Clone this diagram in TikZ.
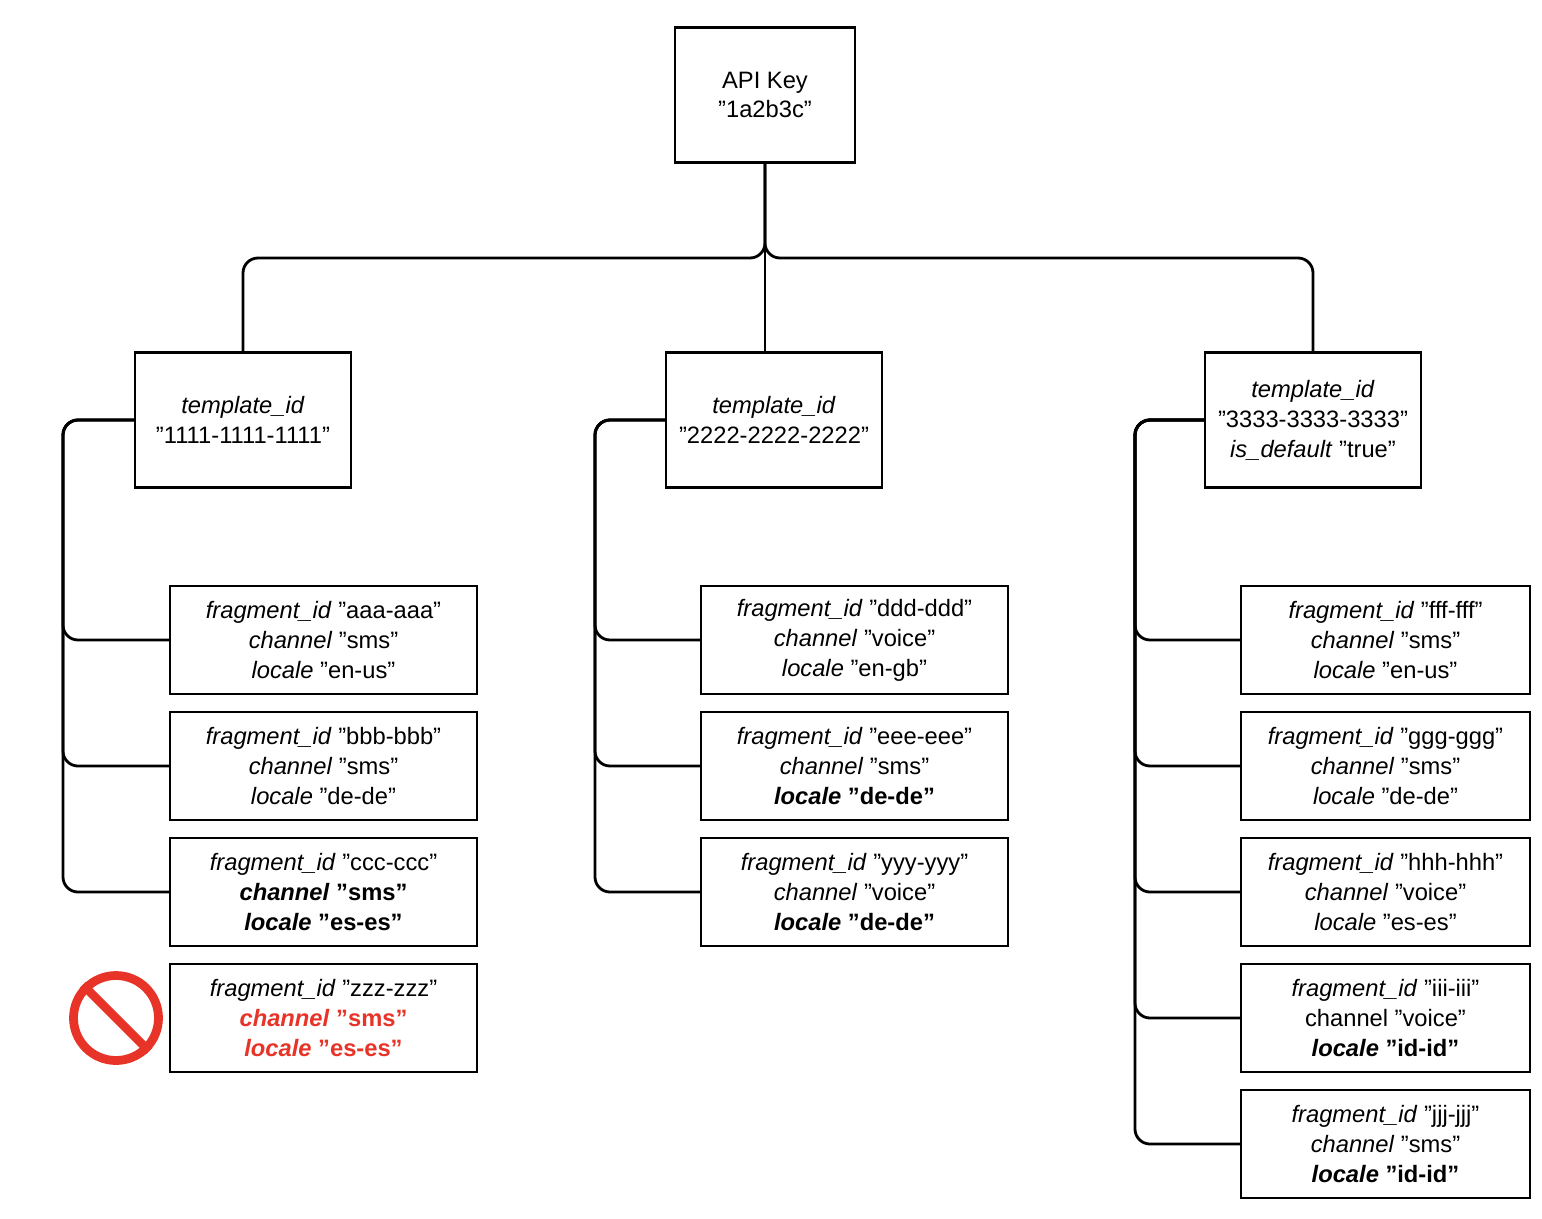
\documentclass[tikz,border=0pt]{standalone}
\usepackage{fontspec}
\setmainfont{Liberation Sans}
\usetikzlibrary{positioning}
\definecolor{my_red}{RGB}{232, 52, 40}
\tikzset {
  box/.style = {draw, line width=1.4pt, rectangle, fill=white, align=center, inner sep=0pt, font=\fontsize{13.5}{17}\selectfont},
  apibox/.style = {box, minimum width=3.6cm, minimum height=2.7cm},
  tmpl/.style = {box, minimum width=4.32cm, minimum height=2.7cm},
  frag/.style = {box, minimum width=6.14cm, minimum height=2.16cm},
  conn/.style = {line width=1.6pt, rounded corners=0.3cm},
}
\begin{document}
\begin{tikzpicture}[x=0.02cm, y=-0.02cm]
    \useasboundingbox (0,0) rectangle (1542,1218);

    \node[apibox] (api) at (765,95) {API Key\\"1a2b3c"};
    \node[tmpl] (t1) at (243,420) {\textit{template\_id}\\"1111-1111-1111"};
    \node[tmpl] (t2) at (774,420) {\textit{template\_id}\\"2222-2222-2222"};
    \node[tmpl] (t3) at (1313,420) {\textit{template\_id}\\"3333-3333-3333"\\\textit{is\_default} "true"};

    % first template
    \node[frag] (fa) at (323.5,640) {\textit{fragment\_id} "aaa-aaa"\\\textit{channel} "sms"\\\textit{locale} "en-us"};
    \node[frag] (fb) at (323.5,766) {\textit{fragment\_id} "bbb-bbb"\\\textit{channel} "sms"\\\textit{locale} "de-de"};
    \node[frag] (fc) at (323.5,892) {\textit{fragment\_id} "ccc-ccc"\\\textbf{\textit{channel} "sms"}\\\textbf{\textit{locale} "es-es"}};
    \node[frag] (fz) at (323.5,1018) {\textit{fragment\_id} "zzz-zzz"\\\textcolor{my_red}{\textbf{\textit{channel} "sms"}}\\\textcolor{my_red}{\textbf{\textit{locale} "es-es"}}};
    \node[circle, draw=my_red, line width=5pt, minimum size=1.7cm] (nosign) at (116,1018) {};
    \draw[my_red, line width=5pt] (nosign.135) -- (nosign.-45);

    % second template
    \node[frag] (fd) at (854.5,640) {\textit{fragment\_id} "ddd-ddd"\\\textit{channel} "voice"\\\textit{locale} "en-gb"};
    \node[frag] (fe) at (854.5,766) {\textit{fragment\_id} "eee-eee"\\\textit{channel} "sms"\\\textbf{\textit{locale} "de-de"}};
    \node[frag] (fy) at (854.5,892) {\textit{fragment\_id} "yyy-yyy"\\\textit{channel} "voice"\\\textbf{\textit{locale} "de-de"}};

    % third template
    \node[frag, minimum width=5.78cm] (ff) at (1385.5,640) {\textit{fragment\_id} "fff-fff"\\\textit{channel} "sms"\\\textit{locale} "en-us"};
    \node[frag, minimum width=5.78cm] (fg) at (1385.5,766) {\textit{fragment\_id} "ggg-ggg"\\\textit{channel} "sms"\\\textit{locale} "de-de"};
    \node[frag, minimum width=5.78cm] (fh) at (1385.5,892) {\textit{fragment\_id} "hhh-hhh"\\\textit{channel} "voice"\\\textit{locale} "es-es"};
    \node[frag, minimum width=5.78cm] (fi) at (1385.5,1018) {\textit{fragment\_id} "iii-iii"\\channel "voice"\\\textbf{\textit{locale} "id-id"}};
    \node[frag, minimum width=5.78cm] (fj) at (1385.5,1144) {\textit{fragment\_id} "jjj-jjj"\\\textit{channel} "sms"\\\textbf{\textit{locale} "id-id"}};

    \coordinate (hub) at (765,258);
    \coordinate (l1) at (63,420);
    \coordinate (l2) at (595,420);
    \coordinate (l3) at (1135,420);

    \draw[conn] (api.south) -- (hub) -| (t1.north);
    \draw[conn] (api.south) -- (hub) -| (t3.north);
    \draw[conn] (api.south) -- (765,352);

    \foreach \f in {fa, fb, fc}
        \draw[conn] (t1.west) -- (l1) |- (\f.west);
    \foreach \f in {fd, fe, fy}
        \draw[conn] (t2.west) -- (l2) |- (\f.west);
    \foreach \f in {ff, fg, fh, fi, fj}
        \draw[conn] (t3.west) -- (l3) |- (\f.west);

\end{tikzpicture}
\end{document}
